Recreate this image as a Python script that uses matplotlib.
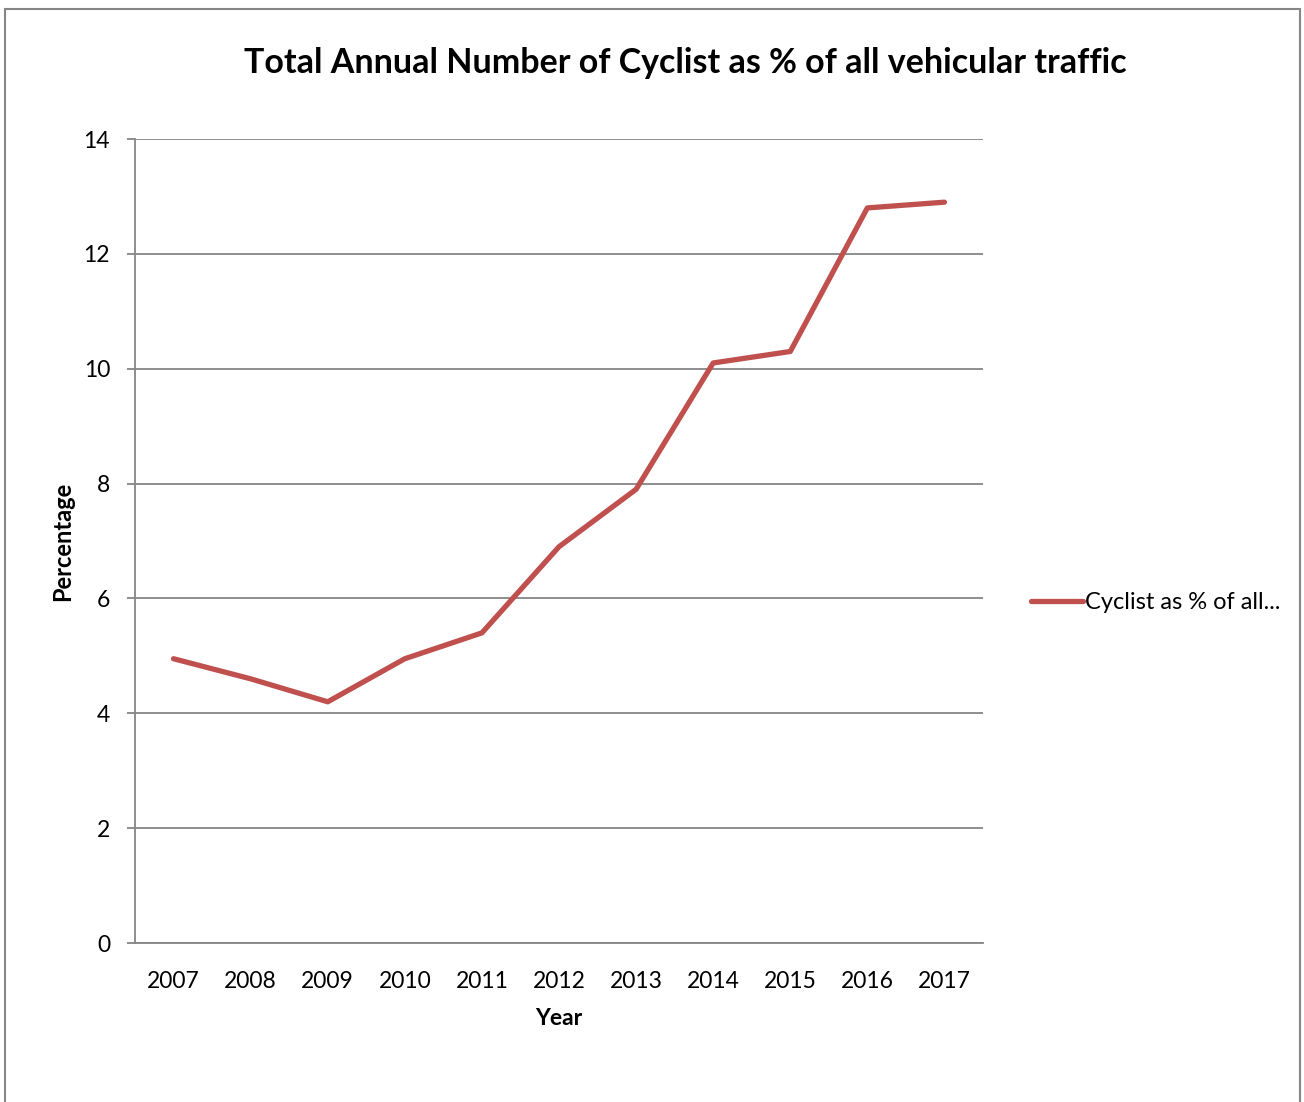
import matplotlib.pyplot as plt
from matplotlib.patches import Rectangle

# Data
years = ['2007', '2008', '2009', '2010', '2011', '2012', '2013', '2014', '2015', '2016', '2017']
cyclist_pct = [4.95, 4.6, 4.2, 4.95, 5.4, 6.9, 7.9, 10.1, 10.3, 12.8, 12.9]
y_ticks = [0, 2, 4, 6, 8, 10, 12, 14]

LINE_COLOR = '#C0504D'
AXIS_COLOR = '#868686'
plt.rcParams['font.family'] = ['Lato', 'DejaVu Sans']

fig = plt.figure(figsize=(13.04, 11.02), dpi=100)
W, H = 1304, 1102

# outer chart border
fig.patches.append(Rectangle((5 / W, -0.01), 1295 / W, (1102 - 9) / H + 0.01,
                             transform=fig.transFigure, fill=False,
                             edgecolor=AXIS_COLOR, linewidth=1.5))

ax = fig.add_axes([135 / W, (H - 943) / H, (983 - 135) / W, (943 - 139) / H])
x = list(range(len(years)))
ax.plot(x, cyclist_pct, color=LINE_COLOR, linewidth=3.8, solid_capstyle='round',
        solid_joinstyle='round', label='Cyclist as % of all...')

ax.set_xlim(-0.5, len(years) - 0.5)
ax.set_ylim(0, 14)
ax.set_yticks(y_ticks)
ax.set_xticks(x)
ax.set_xticklabels(years)
ax.grid(axis='y', color=AXIS_COLOR, linewidth=1.3)
ax.set_axisbelow(True)

for side in ['top', 'right']:
    ax.spines[side].set_visible(False)
for side in ['left', 'bottom']:
    ax.spines[side].set_color(AXIS_COLOR)
    ax.spines[side].set_linewidth(1.3)

ax.tick_params(axis='y', length=6, width=1.3, color=AXIS_COLOR, labelsize=16.5, pad=12)
ax.tick_params(axis='x', length=0, labelsize=16.5, pad=20)

ax.set_xlabel('Year', fontsize=16.5, fontweight='bold', labelpad=12)
ax.set_ylabel('Percentage', fontsize=17, fontweight='bold', labelpad=7)

fig.text(685 / W, 1 - 63 / H, 'Total Annual Number of Cyclist as % of all vehicular traffic',
         ha='center', va='center', fontsize=24.5, fontweight='bold')

ax.legend(loc='center left', bbox_to_anchor=(1.045, 0.423), frameon=False,
          fontsize=17, handlelength=2.2, handletextpad=0.1, borderaxespad=0)

fig.savefig('out.png', dpi=100)
